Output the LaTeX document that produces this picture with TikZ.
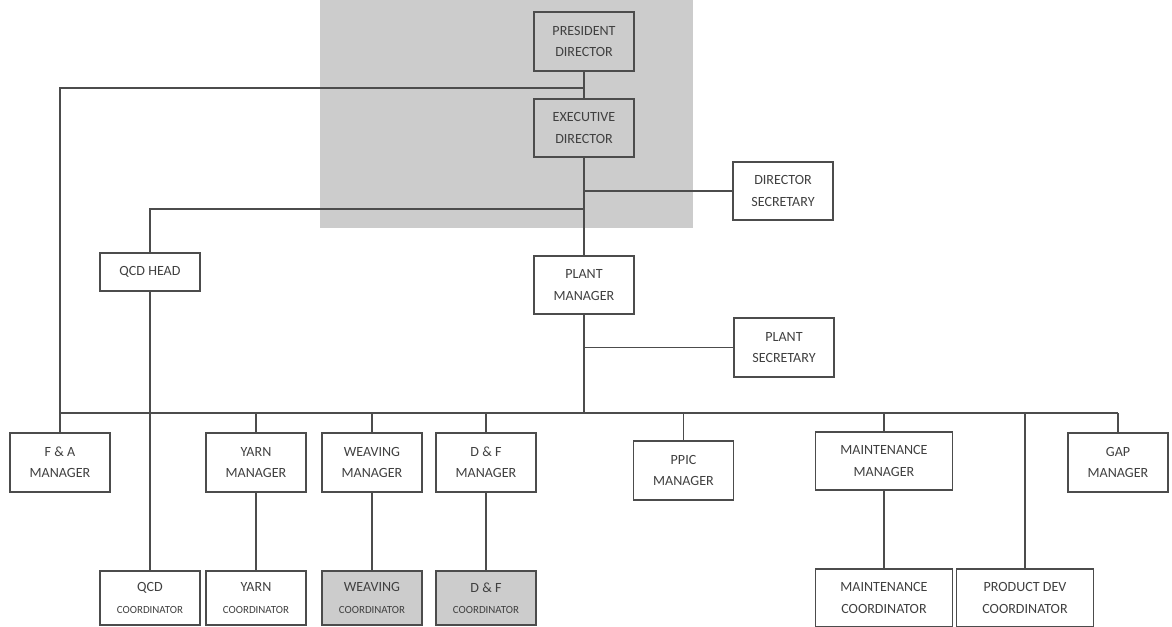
\documentclass[tikz,border=0pt]{standalone}
\usepackage{fontspec}
\setmainfont{Carlito}
\tikzstyle{unit}=[rectangle,draw=black!70,line width=0.9pt,minimum width=2cm,minimum height=1.17cm,inner sep=1pt,align=center,text=black!75,font=\fontsize{8}{12}\selectfont]
\tikzstyle{wide unit}=[unit,minimum width=2.74cm]
\tikzstyle{low unit}=[unit,minimum height=1.08cm]
\tikzstyle{edge} = [draw,line width=1pt,black!70]
\newcommand{\smallco}{{\fontsize{6.2}{9}\selectfont COORDINATOR}}

\begin{document}
\begin{tikzpicture}[x=0.02cm,y=-0.02cm]
	\useasboundingbox (0,0) rectangle (1172,626);
	% grey block behind the top of the chart
	\fill[black!20] (320,0) rectangle (693,228);
	% directors
		\node[unit] (pd) at (584,41.5) {PRESIDENT\\DIRECTOR};
		\node[unit] (ed) at (584,128) {EXECUTIVE\\DIRECTOR};
		\node[unit] (ds) at (783,191) {DIRECTOR\\SECRETARY};
		\node[unit,minimum height=0.76cm] (qh) at (150,272) {QCD HEAD};
		\node[unit] (pm) at (584,285) {PLANT\\MANAGER};
		\node[unit] (ps) at (784,347.5) {PLANT\\SECRETARY};
	% managers
		\node[unit] (fa) at (60,462.5) {F \& A\\MANAGER};
		\node[unit] (ym) at (256,462.5) {YARN\\MANAGER};
		\node[unit] (wm) at (372,462.5) {WEAVING\\MANAGER};
		\node[unit] (dm) at (486,462.5) {D \& F\\MANAGER};
		\node[unit] (pp) at (683.5,470.5) {PPIC\\MANAGER};
		\node[wide unit] (mm) at (884,461) {MAINTENANCE\\MANAGER};
		\node[unit] (gm) at (1118,462.5) {GAP\\MANAGER};
	% coordinators
		\node[low unit] (qc) at (150,598) {QCD\\\smallco};
		\node[low unit] (yc) at (256,598) {YARN\\\smallco};
		\node[low unit,fill=black!20] (wc) at (372,598) {WEAVING\\\smallco};
		\node[low unit,fill=black!20] (dc) at (486,598) {D \& F\\\smallco};
		\node[low unit,wide unit] (mc) at (884,598) {MAINTENANCE\\COORDINATOR};
		\node[low unit,wide unit] (pc) at (1025,598) {PRODUCT DEV\\COORDINATOR};
	% junctions on the main line
		\coordinate (j1) at (584,88);
		\coordinate (j2) at (584,191);
		\coordinate (j3) at (584,209);
		\coordinate (j4) at (584,347.5);
		\coordinate (bus) at (584,413);
   		 % Connect the top of the chart
		\path[edge] (pd) -- (ed);
		\path[edge] (ed) -- (pm);
		\path[edge] (pm) -- (bus);
		\path[edge] (j1) -| (fa);
		\path[edge] (j2) -- (ds);
		\path[edge] (j3) -| (qh);
		\path[edge] (j4) -- (ps);
		\path[edge] (fa |- bus) -- (gm |- bus);
   		 % drops from the bus
   		 \foreach \dest in {ym, wm, dm, pp, mm, gm, pc}
		 \path[edge] (\dest |- bus) to (\dest);
   		 % managers to coordinators
   		 \foreach \source/ \dest in {qh/qc, ym/yc, wm/wc, dm/dc, mm/mc}
		 \path[edge] (\source) to (\dest);
\end{tikzpicture}
\end{document}
